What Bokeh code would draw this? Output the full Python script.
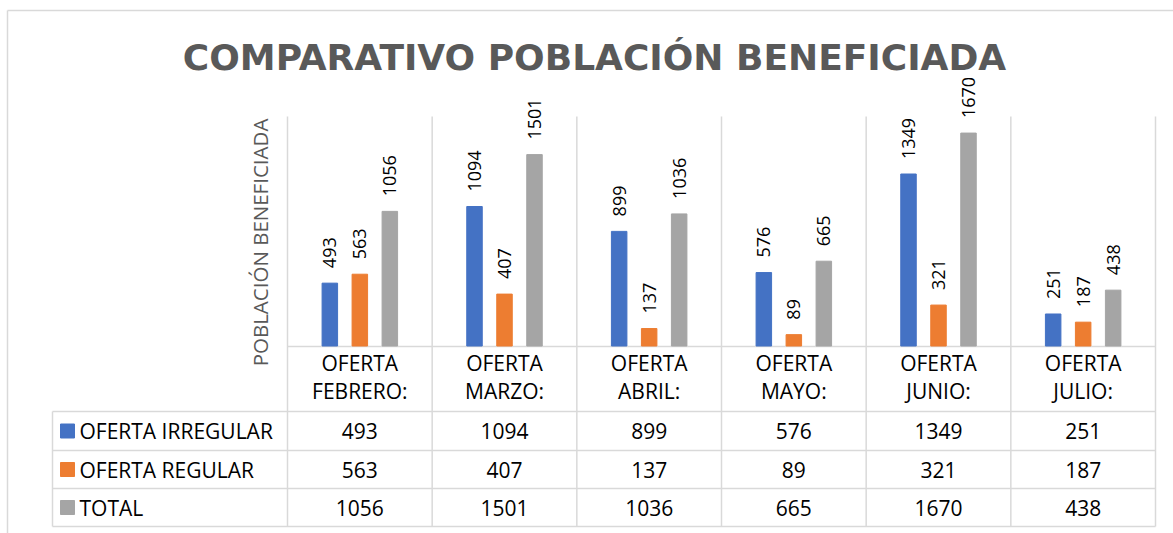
import math
from bokeh.plotting import figure
from bokeh.models import ColumnDataSource, Range1d
from bokeh.core.properties import value
from bokeh.transform import dodge
from bokeh.embed import file_html
from bokeh.resources import INLINE

# ---------------- data ----------------
months = ["FEBRERO:", "MARZO:", "ABRIL:", "MAYO:", "JUNIO:", "JULIO:"]
irregular = [493, 1094, 899, 576, 1349, 251]
regular = [563, 407, 137, 89, 321, 187]
total = [1056, 1501, 1036, 665, 1670, 438]
series_names = ["OFERTA  IRREGULAR", "OFERTA  REGULAR", "TOTAL"]
colors = ["#4472C4", "#ED7D31", "#A5A5A5"]
title_text = "COMPARATIVO POBLACIÓN BENEFICIADA"
y_title = "POBLACIÓN BENEFICIADA"
y_max = 1800

# ---------------- layout (page px) ----------------
W, H = 1173, 533
plot_left, plot_right = 287.0, 1155.0
plot_top, base = 116.0, 345.5
n = len(months)
cat_w = (plot_right - plot_left) / n
row_lines = [411.0, 450.0, 488.0, 526.0]
leg_left = 52.0
FONT = "Open Sans"

upp = y_max / (base - plot_top)
p = figure(
    width=W, height=H,
    x_range=Range1d(-plot_left / cat_w, (W - plot_left) / cat_w),
    y_range=Range1d(-(H - base) * upp, base * upp),
    x_axis_type=None, y_axis_type=None,
    toolbar_location=None, output_backend="svg",
    min_border=0, outline_line_color=None,
    background_fill_color="white", border_fill_color="white",
)
p.extra_x_ranges = {"px": Range1d(0, W)}
p.extra_y_ranges = {"px": Range1d(H, 0)}
p.grid.visible = False

GRID = "#D9D9D9"

# outer chart border
p.segment(x0=[7, 7], y0=[10, 10], x1=[7, W], y1=[H, 10],
          x_range_name="px", y_range_name="px", line_color=GRID, line_width=1.5)

# vertical gridlines through plot + table
vx = [plot_left + k * cat_w for k in range(n + 1)]
p.segment(x0=vx, y0=[plot_top] * len(vx), x1=vx, y1=[row_lines[-1]] * len(vx),
          x_range_name="px", y_range_name="px", line_color=GRID, line_width=1.5)
# baseline
p.segment(x0=[plot_left], y0=[base + 0.5], x1=[plot_right], y1=[base + 0.5],
          x_range_name="px", y_range_name="px", line_color=GRID, line_width=1.5)
# table rows
p.segment(x0=[leg_left] * len(row_lines), y0=row_lines,
          x1=[plot_right] * len(row_lines), y1=row_lines,
          x_range_name="px", y_range_name="px", line_color=GRID, line_width=1.5)
p.segment(x0=[leg_left], y0=[row_lines[0]], x1=[leg_left], y1=[row_lines[-1]],
          x_range_name="px", y_range_name="px", line_color=GRID, line_width=1.5)

# ---------------- bars ----------------
src = ColumnDataSource(dict(
    xi=[i + 0.5 for i in range(n)],
    irregular=irregular, regular=regular, total=total,
    irregular_s=[str(v) for v in irregular],
    regular_s=[str(v) for v in regular],
    total_s=[str(v) for v in total],
    cat=["OFERTA\n" + m for m in months],
))
off = 30.0 / cat_w
bw = 15.5 / cat_w
for k, (col, c) in enumerate(zip(["irregular", "regular", "total"], colors)):
    xs = dodge("xi", (k - 1) * off, range=p.x_range)
    p.vbar(x=xs, top=col, bottom=0, width=bw, source=src,
           fill_color=c, line_color=c)
    p.text(x=xs, y=col, text=col + "_s", source=src, angle=math.pi / 2,
           text_align="left", text_baseline="middle", y_offset=-15,
           text_font=value(FONT), text_font_size="18px", text_color="black")

# category labels
p.text(x="xi", y=376.5, y_range_name="px", text="cat", source=src,
       text_align="center", text_baseline="middle", text_line_height=1.0,
       text_font=value(FONT), text_font_size="21px", text_color="black")

# table values
row_c = [(row_lines[i] + row_lines[i + 1]) / 2 for i in range(3)]
for k, col in enumerate(["irregular_s", "regular_s", "total_s"]):
    p.text(x="xi", y=row_c[k], y_range_name="px", text=col, source=src,
           text_align="center", text_baseline="middle",
           text_font=value(FONT), text_font_size="21px", text_color="black")

# legend keys in table
p.rect(x=[67] * 3, y=row_c, width=14, height=14, x_range_name="px", y_range_name="px",
       fill_color=colors, line_color=colors)
p.text(x=[79] * 3, y=row_c, text=series_names, x_range_name="px", y_range_name="px",
       text_align="left", text_baseline="middle",
       text_font=value(FONT), text_font_size="21px", text_color="black")

# titles
p.text(x=[594], y=[57], text=[title_text], x_range_name="px", y_range_name="px",
       text_align="center", text_baseline="middle", text_font_style="bold",
       text_font=value("DejaVu Sans"), text_font_size="36px", text_color="#595959")
p.text(x=[259], y=[242], text=[y_title], x_range_name="px", y_range_name="px",
       angle=math.pi / 2, text_align="center", text_baseline="middle",
       text_font=value(FONT), text_font_size="20.5px", text_color="#595959")

open("out.html", "w").write(file_html(p, INLINE))
